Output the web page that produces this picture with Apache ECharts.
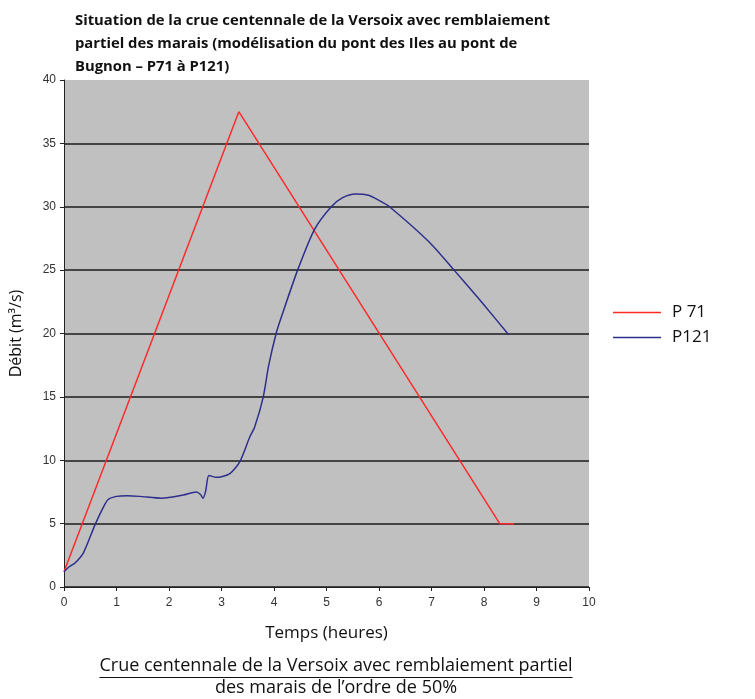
<!DOCTYPE html>
<html>
<head>
<meta charset="utf-8">
<script src="https://cdn.jsdelivr.net/npm/echarts@6/dist/echarts.min.js"></script>
<style>html,body{margin:0;padding:0;background:#fff}#c{width:755px;height:699px}</style>
</head>
<body>
<div id="c"></div>
<script>
// --- data ---
const titleLines = ['Situation de la crue centennale de la Versoix avec remblaiement', 'partiel des marais (modélisation du pont des Iles au pont de', 'Bugnon – P71 à P121)'];
const xAxisName = 'Temps (heures)';
const yAxisName = 'Débit (m³/s)';
const captionLine1 = 'Crue centennale de la Versoix avec remblaiement partiel';
const captionLine2 = 'des marais de l’ordre de 50%';
const seriesNames = ['P 71', 'P121'];

const p71Time = [0, 3.33, 8.3, 8.57];
const p71Flow = [1.2, 37.5, 5.0, 5.0];

const p121Time = [0, 0.1, 0.21, 0.37, 0.59, 0.75, 0.84, 1.0, 1.2, 1.44, 1.86, 2.27, 2.52, 2.6, 2.65, 2.7, 2.76, 2.9, 3.16, 3.35, 3.54, 3.63, 3.79, 3.9, 4.04, 4.14, 4.45, 4.77, 5.09, 5.3, 5.56, 5.8, 6.0, 6.2, 6.96, 7.43, 7.97, 8.47];
const p121Flow = [1.2, 1.6, 1.9, 2.7, 4.9, 6.3, 6.9, 7.15, 7.2, 7.15, 7.0, 7.25, 7.5, 7.3, 7.0, 7.6, 8.8, 8.65, 8.95, 9.9, 11.85, 12.6, 14.9, 17.5, 20.0, 21.3, 25.0, 28.2, 30.0, 30.7, 31.0, 30.9, 30.5, 30.0, 27.2, 25.0, 22.4, 19.9];

const chart = echarts.init(document.getElementById('c'), null, {renderer: 'canvas'});

const capFont = '18px "Open Sans"';
const cv = document.createElement('canvas').getContext('2d');
cv.font = capFont;
const capW = cv.measureText(captionLine1).width;
const capCx = 336;

chart.setOption({
  animation: false,
  backgroundColor: '#ffffff',
  title: {
    text: titleLines.join('\n'),
    left: 70, top: 4,
    textStyle: {fontFamily: '"Open Sans"', fontWeight: 'bold', fontSize: 14.8, lineHeight: 23, color: '#111'}
  },
  legend: {
    orient: 'vertical', left: 608, top: 297,
    icon: 'rect', itemWidth: 48, itemHeight: 1.5, itemGap: 4,
    textStyle: {fontFamily: '"Open Sans"', fontSize: 17, lineHeight: 21, color: '#111', padding: [0, 0, 0, 6]},
    data: seriesNames
  },
  grid: {left: 61, right: 166, top: 80, bottom: 112, show: true, backgroundColor: '#c0c0c0', borderWidth: 0},
  xAxis: {
    type: 'value', min: 0, max: 10, interval: 1,
    name: xAxisName, nameLocation: 'middle', nameGap: 38,
    nameTextStyle: {fontFamily: '"Open Sans"', fontSize: 17, color: '#111'},
    axisLine: {show: true, lineStyle: {color: '#222', width: 1}},
    axisTick: {show: true, length: 4, lineStyle: {color: '#222'}},
    axisLabel: {fontFamily: 'Liberation Sans', fontSize: 12, color: '#333', margin: 10},
    splitLine: {show: false}
  },
  yAxis: {
    type: 'value', min: 0, max: 40, interval: 5,
    name: yAxisName, nameLocation: 'middle', nameGap: 40,
    nameTextStyle: {fontFamily: '"Open Sans"', fontSize: 16, color: '#111'},
    axisLine: {show: true, lineStyle: {color: '#222', width: 1}},
    axisTick: {show: true, length: 4, lineStyle: {color: '#222'}},
    axisLabel: {fontFamily: 'Liberation Sans', fontSize: 12, color: '#333', margin: 8},
    splitLine: {show: true, lineStyle: {color: ['#444', '#444', '#444', '#444', '#444', '#444', '#444', '#444', 'rgba(0,0,0,0)'], width: 2}}
  },
  series: [
    {
      name: seriesNames[0], type: 'line', showSymbol: false, symbol: 'none',
      lineStyle: {color: '#ff2b2b', width: 1.5}, itemStyle: {color: '#ff2b2b'},
      data: p71Time.map((t, i) => [t, p71Flow[i]])
    },
    {
      name: seriesNames[1], type: 'line', showSymbol: false, symbol: 'none', smooth: 0.25,
      lineStyle: {color: '#2e2e8c', width: 1.5}, itemStyle: {color: '#2e2e8c'},
      data: p121Time.map((t, i) => [t, p121Flow[i]])
    }
  ],
  graphic: [
    {type: 'text', x: capCx, y: 657, style: {text: captionLine1, font: capFont, fill: '#111', align: 'center', verticalAlign: 'top'}},
    {type: 'line', shape: {x1: capCx - capW / 2, y1: 677.5, x2: capCx + capW / 2, y2: 677.5}, style: {stroke: '#111', lineWidth: 1}},
    {type: 'text', x: capCx, y: 679, style: {text: captionLine2, font: capFont, fill: '#111', align: 'center', verticalAlign: 'top'}}
  ]
});
</script>
</body>
</html>
